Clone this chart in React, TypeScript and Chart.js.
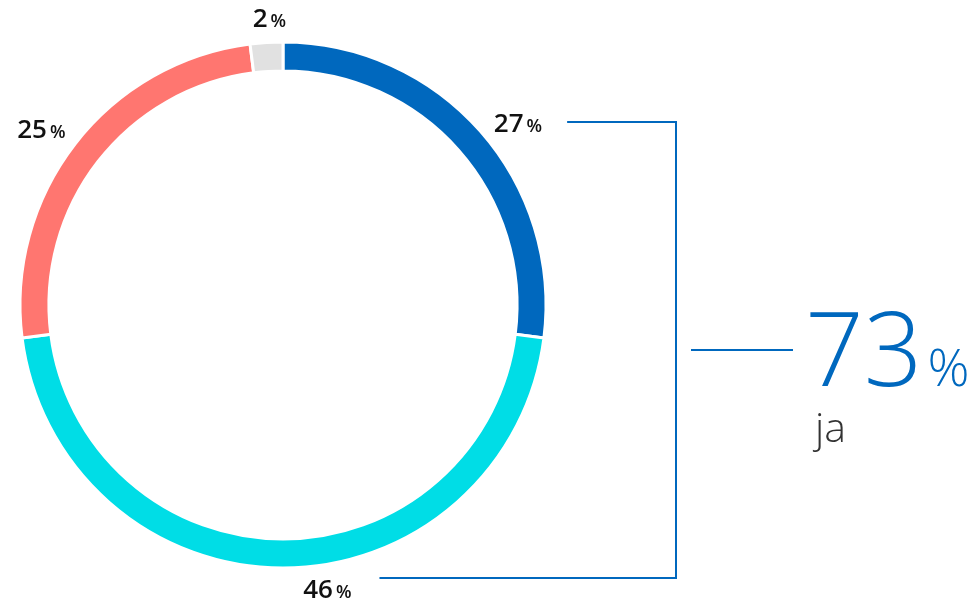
import React, { useEffect, useRef } from "react";
import { Chart, registerables } from "chart.js";

Chart.register(...registerables);

// ---- data ----
const categories = ["Segment A", "Segment B", "Segment C", "Segment D"];
const values = [27, 46, 25, 2];
const summaryValue = 73;
const summaryLabel = "ja";

// ---- styles ----
const colors = ["#0068BE", "#00DDE6", "#FF7670", "#E1E1E1"];
const accent = "#0068BE";
// label placement: angle shift (deg, clockwise) from the slice middle, gap beyond outer radius
const labelShift = [3.5, -8.9, -1.6, 0.9];
const labelGap = [34.8, 23.5, 36.4, 25.3];
const bracketX = 676;

const overlayPlugin = {
  id: "overlay",
  afterDraw(chart: any) {
    const ctx = chart.ctx as CanvasRenderingContext2D;
    const meta = chart.getDatasetMeta(0);
    const pos: { cx: number; cy: number; right: number }[] = [];
    const numFont = '600 26px "Open Sans"';
    const pctFont = '600 18px "Open Sans"';
    meta.data.forEach((arc: any, i: number) => {
      const p = arc.getProps(["x", "y", "startAngle", "endAngle", "outerRadius"], true);
      const mid = (p.startAngle + p.endAngle) / 2 + (labelShift[i] * Math.PI) / 180;
      const r = p.outerRadius + labelGap[i];
      const cx = p.x + Math.cos(mid) * r;
      const cy = p.y + Math.sin(mid) * r;
      const num = String(values[i]);
      ctx.save();
      ctx.textBaseline = "alphabetic";
      ctx.textAlign = "left";
      ctx.font = numFont;
      const wNum = ctx.measureText(num).width;
      ctx.font = pctFont;
      const wPct = ctx.measureText("%").width;
      const gap = 3;
      const total = wNum + gap + wPct;
      const x0 = cx - total / 2;
      const base = cy + 9.5;
      ctx.fillStyle = "#111111";
      ctx.font = numFont;
      ctx.fillText(num, x0, base);
      ctx.font = pctFont;
      ctx.fillText("%", x0 + wNum + gap, base);
      ctx.restore();
      pos.push({ cx, cy, right: x0 + total });
    });

    // bracket linking the first two slices
    const top = pos[0];
    const bot = pos[1];
    const yTop = Math.round(top.cy);
    const yBot = Math.round(bot.cy - 10);
    const yMid = Math.round((yTop + yBot) / 2);
    ctx.save();
    ctx.strokeStyle = accent;
    ctx.lineWidth = 2;
    ctx.beginPath();
    ctx.moveTo(top.right + 25, yTop);
    ctx.lineTo(bracketX, yTop);
    ctx.lineTo(bracketX, yBot);
    ctx.lineTo(bot.right + 28, yBot);
    ctx.stroke();
    ctx.beginPath();
    ctx.moveTo(bracketX + 15, yMid);
    ctx.lineTo(bracketX + 117, yMid);
    ctx.stroke();

    // summary
    const sx = bracketX + 129;
    const sBase = yMid + 36;
    ctx.fillStyle = accent;
    ctx.textAlign = "left";
    ctx.textBaseline = "alphabetic";
    ctx.font = '300 103px "Open Sans"';
    const big = String(summaryValue);
    const wBig = ctx.measureText(big).width;
    ctx.fillText(big, sx, sBase);
    ctx.font = '300 52px "Open Sans"';
    ctx.fillText("%", sx + wBig + 5, sBase);
    ctx.fillStyle = "#333333";
    ctx.font = '300 41px "Open Sans"';
    ctx.fillText(summaryLabel, sx + 10, sBase + 56);
    ctx.restore();
  },
};

export default function App() {
  const ref = useRef<HTMLCanvasElement | null>(null);
  useEffect(() => {
    if (!ref.current) return;
    const chart = new Chart(ref.current, {
      type: "doughnut",
      data: {
        labels: categories,
        datasets: [
          {
            data: values,
            backgroundColor: colors,
            borderColor: "#ffffff",
            borderWidth: 3,
          },
        ],
      },
      options: {
        responsive: false,
        animation: false,
        devicePixelRatio: 1,
        cutout: "89%",
        layout: { padding: { left: 18.5, top: 40.5, right: 430.5, bottom: 31.5 } },
        plugins: { legend: { display: false }, tooltip: { enabled: false } },
      },
      plugins: [overlayPlugin],
    });
    return () => chart.destroy();
  }, []);
  return (
    <div style={{ position: "absolute", left: 0, top: 0, width: 978, height: 601, background: "#fff" }}>
      <canvas ref={ref} width={978} height={601} style={{ display: "block" }} />
    </div>
  );
}
